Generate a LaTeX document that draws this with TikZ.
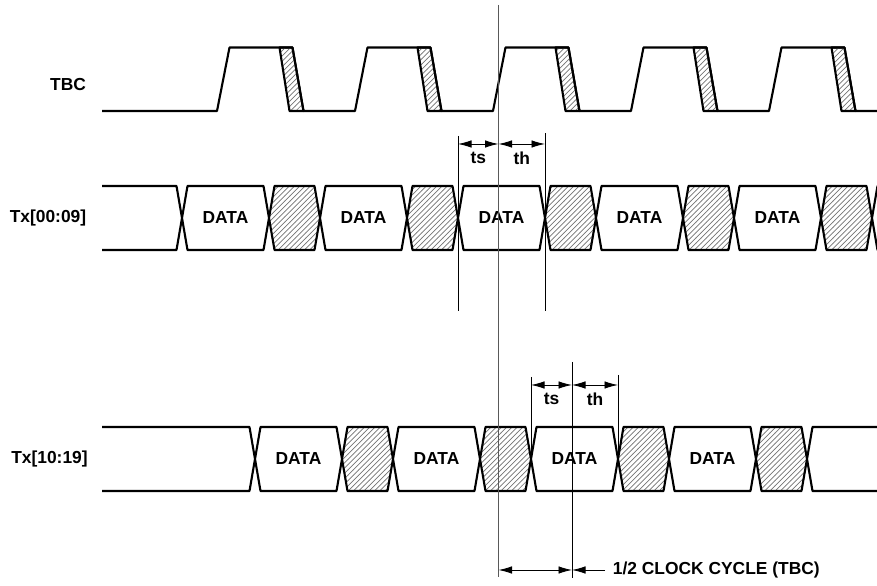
\documentclass[tikz,border=0pt]{standalone}
\usepackage{fontspec}
\setmainfont{Liberation Sans}
\usetikzlibrary{arrows.meta,patterns}
\begin{document}
\begin{tikzpicture}[
  sig/.style={line width=1.2pt,line join=round},
  hatch/.style={sig,pattern=north east lines,pattern color=black!55},
  lbl/.style={font=\fontsize{9.9}{11.8}\selectfont\bfseries,inner sep=0pt},
  guide/.style={line width=0.5pt},
  dim/.style={{Latex[length=0.27cm,width=0.15cm]}-{Latex[length=0.27cm,width=0.15cm]},line width=0.5pt},
  dimin/.style={-{Latex[length=0.27cm,width=0.15cm]},line width=0.5pt}
]
\useasboundingbox (0,0) rectangle (17.54,11.72);
% --- signal names ---
\node[lbl] (tbc) at (1.36,10.02) {TBC};
\node[lbl] (txa) at (0.96,7.36) {Tx[00:09]};
\node[lbl] (txb) at (0.99,2.54) {Tx[10:19]};
% --- TBC ---
\draw[sig] (2.040,9.50) -- (4.340,9.50) -- (4.590,10.77) -- (5.850,10.77) -- (6.070,9.50) -- (7.100,9.50) -- (7.350,10.77) -- (8.610,10.77) -- (8.830,9.50) -- (9.860,9.50) -- (10.110,10.77) -- (11.370,10.77) -- (11.590,9.50) -- (12.620,9.50) -- (12.870,10.77) -- (14.130,10.77) -- (14.350,9.50) -- (15.380,9.50) -- (15.630,10.77) -- (16.890,10.77) -- (17.110,9.50) -- (17.540,9.50);
\draw[hatch] (5.590,10.77) -- (5.850,10.77) -- (6.070,9.50) -- (5.790,9.50) -- cycle;
\draw[hatch] (8.350,10.77) -- (8.610,10.77) -- (8.830,9.50) -- (8.550,9.50) -- cycle;
\draw[hatch] (11.110,10.77) -- (11.370,10.77) -- (11.590,9.50) -- (11.310,9.50) -- cycle;
\draw[hatch] (13.870,10.77) -- (14.130,10.77) -- (14.350,9.50) -- (14.070,9.50) -- cycle;
\draw[hatch] (16.630,10.77) -- (16.890,10.77) -- (17.110,9.50) -- (16.830,9.50) -- cycle;
% --- Tx[00:09] ---
\draw[sig] (2.040,8.00) -- (3.530,8.00) -- (3.640,7.36) -- (3.530,6.72) -- (2.040,6.72);
\draw[sig] (3.640,7.36) -- (3.750,8.00) -- (5.270,8.00) -- (5.380,7.36) -- (5.270,6.72) -- (3.750,6.72) -- cycle;
\draw[hatch] (5.380,7.36) -- (5.490,8.00) -- (6.290,8.00) -- (6.400,7.36) -- (6.290,6.72) -- (5.490,6.72) -- cycle;
\draw[sig] (6.400,7.36) -- (6.510,8.00) -- (8.030,8.00) -- (8.140,7.36) -- (8.030,6.72) -- (6.510,6.72) -- cycle;
\draw[hatch] (8.140,7.36) -- (8.250,8.00) -- (9.050,8.00) -- (9.160,7.36) -- (9.050,6.72) -- (8.250,6.72) -- cycle;
\draw[sig] (9.160,7.36) -- (9.270,8.00) -- (10.790,8.00) -- (10.900,7.36) -- (10.790,6.72) -- (9.270,6.72) -- cycle;
\draw[hatch] (10.900,7.36) -- (11.010,8.00) -- (11.810,8.00) -- (11.920,7.36) -- (11.810,6.72) -- (11.010,6.72) -- cycle;
\draw[sig] (11.920,7.36) -- (12.030,8.00) -- (13.550,8.00) -- (13.660,7.36) -- (13.550,6.72) -- (12.030,6.72) -- cycle;
\draw[hatch] (13.660,7.36) -- (13.770,8.00) -- (14.570,8.00) -- (14.680,7.36) -- (14.570,6.72) -- (13.770,6.72) -- cycle;
\draw[sig] (14.680,7.36) -- (14.790,8.00) -- (16.310,8.00) -- (16.420,7.36) -- (16.310,6.72) -- (14.790,6.72) -- cycle;
\draw[hatch] (16.420,7.36) -- (16.530,8.00) -- (17.330,8.00) -- (17.440,7.36) -- (17.330,6.72) -- (16.530,6.72) -- cycle;
\draw[sig] (17.600,8.00) -- (17.550,8.00) -- (17.440,7.36) -- (17.550,6.72) -- (17.600,6.72);
\node[lbl] (da1) at (4.51,7.36) {DATA};
\node[lbl] (da2) at (7.27,7.36) {DATA};
\node[lbl] (da3) at (10.03,7.36) {DATA};
\node[lbl] (da4) at (12.79,7.36) {DATA};
\node[lbl] (da5) at (15.55,7.36) {DATA};
% --- Tx[10:19] ---
\draw[sig] (2.040,3.18) -- (4.990,3.18) -- (5.100,2.54) -- (4.990,1.90) -- (2.040,1.90);
\draw[sig] (5.100,2.54) -- (5.210,3.18) -- (6.730,3.18) -- (6.840,2.54) -- (6.730,1.90) -- (5.210,1.90) -- cycle;
\draw[hatch] (6.840,2.54) -- (6.950,3.18) -- (7.750,3.18) -- (7.860,2.54) -- (7.750,1.90) -- (6.950,1.90) -- cycle;
\draw[sig] (7.860,2.54) -- (7.970,3.18) -- (9.490,3.18) -- (9.600,2.54) -- (9.490,1.90) -- (7.970,1.90) -- cycle;
\draw[hatch] (9.600,2.54) -- (9.710,3.18) -- (10.510,3.18) -- (10.620,2.54) -- (10.510,1.90) -- (9.710,1.90) -- cycle;
\draw[sig] (10.620,2.54) -- (10.730,3.18) -- (12.250,3.18) -- (12.360,2.54) -- (12.250,1.90) -- (10.730,1.90) -- cycle;
\draw[hatch] (12.360,2.54) -- (12.470,3.18) -- (13.270,3.18) -- (13.380,2.54) -- (13.270,1.90) -- (12.470,1.90) -- cycle;
\draw[sig] (13.380,2.54) -- (13.490,3.18) -- (15.010,3.18) -- (15.120,2.54) -- (15.010,1.90) -- (13.490,1.90) -- cycle;
\draw[hatch] (15.120,2.54) -- (15.230,3.18) -- (16.030,3.18) -- (16.140,2.54) -- (16.030,1.90) -- (15.230,1.90) -- cycle;
\draw[sig] (17.540,3.18) -- (16.250,3.18) -- (16.140,2.54) -- (16.250,1.90) -- (17.540,1.90);
\node[lbl] (db1) at (5.97,2.54) {DATA};
\node[lbl] (db2) at (8.73,2.54) {DATA};
\node[lbl] (db3) at (11.49,2.54) {DATA};
\node[lbl] (db4) at (14.25,2.54) {DATA};
% --- ts / th at the clock edge ---
\coordinate (edgetop) at (9.97,11.62); \coordinate (edgebot) at (9.97,0.18);
\coordinate (setatop) at (9.16,9.00); \coordinate (setabot) at (9.16,5.50);
\coordinate (holdatop) at (10.90,9.05); \coordinate (holdabot) at (10.90,5.50);
\coordinate (seta) at (9.16,8.84); \coordinate (edgea) at (9.97,8.84); \coordinate (holda) at (10.90,8.84);
\draw[guide,black!65] (edgetop) -- (edgebot);
\draw[guide] (setatop) -- (setabot);
\draw[guide] (holdatop) -- (holdabot);
\draw[dim] (seta) -- (edgea);
\draw[dim] (edgea) -- (holda);
\node[lbl] (tsa) at (9.565,8.56) {ts};
\node[lbl] (tha) at (10.435,8.56) {th};
% --- ts / th half a cycle later ---
\coordinate (midtop) at (11.44,4.48); \coordinate (midbot) at (11.44,0.16);
\coordinate (setbtop) at (10.62,4.18); \coordinate (setbbot) at (10.62,2.54);
\coordinate (holdbtop) at (12.36,4.22); \coordinate (holdbbot) at (12.36,2.54);
\coordinate (setb) at (10.62,4.02); \coordinate (midb) at (11.44,4.02); \coordinate (holdb) at (12.36,4.02);
\draw[guide] (midtop) -- (midbot);
\draw[guide] (setbtop) -- (setbbot);
\draw[guide] (holdbtop) -- (holdbbot);
\draw[dim] (setb) -- (midb);
\draw[dim] (midb) -- (holdb);
\node[lbl] (tsb) at (11.03,3.74) {ts};
\node[lbl] (thb) at (11.90,3.74) {th};
% --- half clock cycle ---
\coordinate (halfl) at (9.97,0.32); \coordinate (halfr) at (11.44,0.32); \coordinate (halfin) at (12.10,0.32);
\draw[dim] (halfl) -- (halfr);
\draw[dimin] (halfin) -- (halfr);
\node[lbl,anchor=west] (cyc) at (12.25,0.32) {1/2 CLOCK CYCLE (TBC)};
\end{tikzpicture}
\end{document}
